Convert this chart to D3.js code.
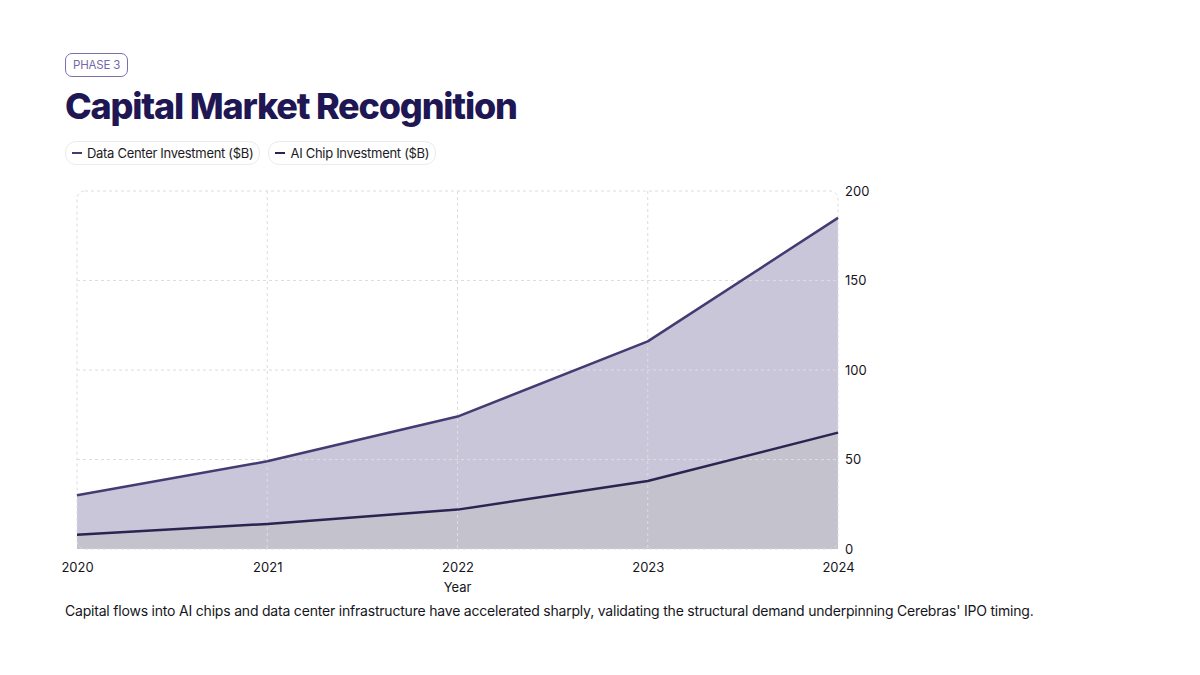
<!DOCTYPE html>
<meta charset="utf-8">
<style>
body {
  margin: 0;
  background: #fff;
  font-family: Inter, "Noto Sans", sans-serif;
  width: 1200px;
  height: 675px;
  overflow: hidden;
}
.tag {
  position: absolute;
  left: 65px;
  top: 53px;
  height: 22px;
  line-height: 22px;
  padding: 0 7px;
  border: 1px solid #7b6fb0;
  border-radius: 7px;
  font-size: 11.5px;
  letter-spacing: -0.2px;
  color: #7567aa;
}
h1 {
  position: absolute;
  left: 65px;
  top: 84px;
  margin: 0;
  font-size: 36px;
  font-weight: 800;
  letter-spacing: -1.2px;
  color: #1f1654;
}
.legend {
  position: absolute;
  left: 65px;
  top: 141px;
  display: flex;
  gap: 8px;
}
.legend .item {
  height: 22px;
  line-height: 22px;
  padding: 0 6px;
  border: 1px solid #ebebef;
  border-radius: 11px;
  font-size: 13px;
  letter-spacing: -0.3px;
  color: #1c1c24;
  display: flex;
  align-items: center;
}
.legend .swatch {
  display: inline-block;
  width: 10px;
  height: 2px;
  margin-right: 5px;
}
.caption {
  position: absolute;
  left: 65px;
  top: 602px;
  font-size: 14px;
  letter-spacing: -0.2px;
  color: #15151c;
}
.grid line, .frame {
  stroke: #dcdce2;
  stroke-dasharray: 3,3;
  fill: none;
}
.axis text {
  font-family: Inter, "Noto Sans", sans-serif;
  font-size: 13px;
  fill: #15151c;
}
.axis path, .axis line { display: none; }
</style>
<body>
<div class="tag">PHASE 3</div>
<h1>Capital Market Recognition</h1>
<div class="legend" id="legend"></div>
<svg width="1200" height="675" style="position:absolute;left:0;top:0"></svg>
<div class="caption">Capital flows into AI chips and data center infrastructure have accelerated sharply, validating the structural demand underpinning Cerebras' IPO timing.</div>
<script src="https://cdn.jsdelivr.net/npm/d3@7/dist/d3.min.js"></script>
<script>
var years = [2020, 2021, 2022, 2023, 2024];
var dataCenter = [30, 49, 74, 116, 185];
var aiChip = [8, 14, 22, 38, 65];
var yTicks = [0, 50, 100, 150, 200];

var seriesList = [
  {name: "Data Center Investment ($B)", values: dataCenter, line: "#463a72", fill: "#c9c6da"},
  {name: "AI Chip Investment ($B)", values: aiChip, line: "#2b2450", fill: "#c4c2cc"}
];

// legend chips
var leg = d3.select("#legend").selectAll(".item")
  .data(seriesList)
  .enter().append("div")
    .attr("class", "item");
leg.append("span").attr("class", "swatch").style("background", function(d) { return d.line; });
leg.append("span").text(function(d) { return d.name; });

var svg = d3.select("svg"),
    margin = {left: 77, top: 191, right: 362, bottom: 126},
    width = 1200 - margin.left - margin.right,
    height = 675 - margin.top - margin.bottom;

var x = d3.scaleLinear().domain([2020, 2024]).range([0, width]);
var y = d3.scaleLinear().domain([0, 200]).range([height, 0]);

var g = svg.append("g")
    .attr("transform", "translate(" + margin.left + "," + margin.top + ")");

var area = function(vals) {
  return d3.area()
    .x(function(d, i) { return x(years[i]); })
    .y0(height)
    .y1(function(d) { return y(d); })(vals);
};
var line = function(vals) {
  return d3.line()
    .x(function(d, i) { return x(years[i]); })
    .y(function(d) { return y(d); })(vals);
};

g.selectAll(".area")
  .data(seriesList)
  .enter().append("path")
    .attr("class", "area")
    .attr("d", function(d) { return area(d.values); })
    .attr("fill", function(d) { return d.fill; });

// grid over the fills
var grid = g.append("g").attr("class", "grid");
grid.selectAll(".h")
  .data(yTicks.slice(1, 4))
  .enter().append("line")
    .attr("x1", 0).attr("x2", width)
    .attr("y1", function(d) { return y(d); })
    .attr("y2", function(d) { return y(d); });
grid.selectAll(".v")
  .data(years.slice(1, 4))
  .enter().append("line")
    .attr("y1", 0).attr("y2", height)
    .attr("x1", function(d) { return x(d); })
    .attr("x2", function(d) { return x(d); });

g.append("rect")
  .attr("class", "frame")
  .attr("x", 0).attr("y", 0)
  .attr("width", width).attr("height", height)
  .attr("rx", 8);

g.selectAll(".line")
  .data(seriesList)
  .enter().append("path")
    .attr("class", "line")
    .attr("d", function(d) { return line(d.values); })
    .attr("fill", "none")
    .attr("stroke", function(d) { return d.line; })
    .attr("stroke-width", 2.5)
    .attr("stroke-linejoin", "round");

g.append("g")
    .attr("class", "axis")
    .attr("transform", "translate(0," + height + ")")
    .call(d3.axisBottom(x).tickValues(years).tickFormat(d3.format("d")).tickSize(0).tickPadding(14));

g.append("g")
    .attr("class", "axis")
    .attr("transform", "translate(" + width + ",0)")
    .call(d3.axisRight(y).tickValues(yTicks).tickSize(0).tickPadding(7));

svg.append("text")
    .attr("x", margin.left + width / 2)
    .attr("y", 592)
    .attr("text-anchor", "middle")
    .style("font-size", "13px")
    .style("fill", "#15151c")
    .text("Year");
</script>
</body>
